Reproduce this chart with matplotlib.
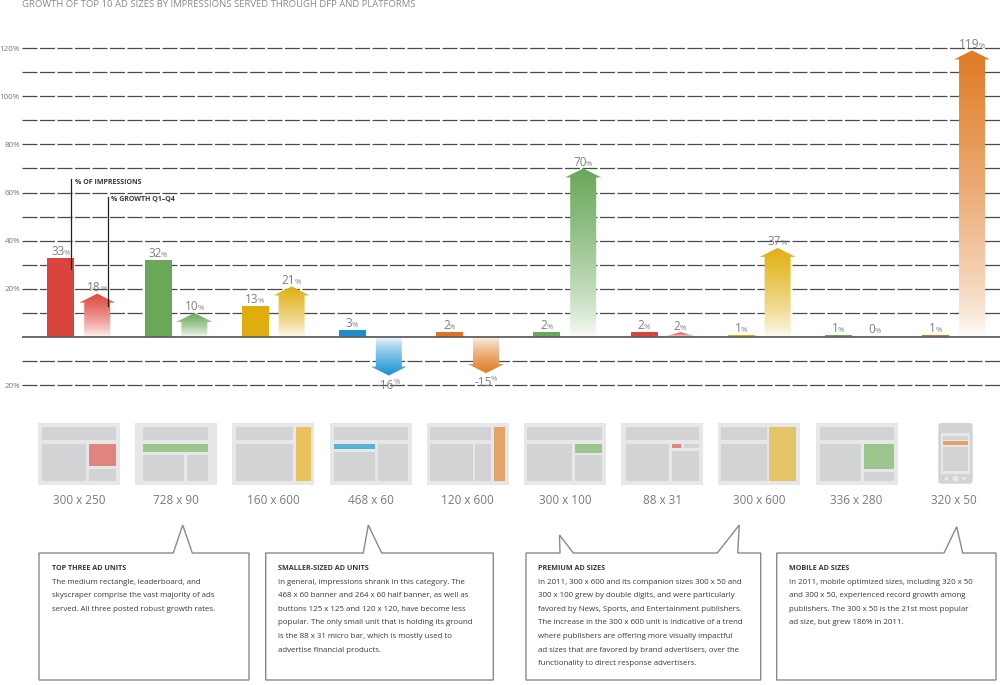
"""Growth of top 10 ad sizes: impressions share (bars) and Q1-Q4 growth (arrows)."""

import matplotlib.pyplot as plt
import numpy as np
from matplotlib.colors import to_rgb
from matplotlib.patches import Circle, FancyBboxPatch, Polygon, Rectangle

plt.rcParams["font.family"] = ["Open Sans", "DejaVu Sans"]

# --- data -------------------------------------------------------------------
TITLE = "GROWTH OF TOP 10 AD SIZES BY IMPRESSIONS SERVED THROUGH DFP AND PLATFORMS"
ad_sizes = ["300 x 250", "728 x 90", "160 x 600", "468 x 60", "120 x 600",
            "300 x 100", "88 x 31", "300 x 600", "336 x 280", "320 x 50"]
impressions = [33, 32, 13, 3, 2, 2, 2, 1, 1, 1]          # % of impressions
growth = [18, 10, 21, -16, -15, 70, 2, 37, 0, 119]       # % growth Q1-Q4
bar_colors = ["#d9453d", "#68a858", "#dfae0e", "#1a8fcc", "#dc7424",
              "#68a858", "#d9453d", "#dfae0e", "#68a858", "#dc7424"]
arrow_colors = ["#e0463b", "#68a858", "#e0ae12", "#1a93d3", "#e07b24",
                "#68a858", "#e0463b", "#e0b010", "#68a858", "#e07b24"]
y_ticks = [120, 100, 80, 60, 40, 20, -20]
y_tick_labels = ["120%", "100%", "80%", "60%", "40%", "20%", "20%"]

boxes = [
    ("TOP THREE AD UNITS",
     ["The medium rectangle, leaderboard, and",
      "skyscraper comprise the vast majority of ads",
      "served. All three posted robust growth rates."]),
    ("SMALLER-SIZED AD UNITS",
     ["In general, impressions shrank in this category. The",
      "468 x 60 banner and 264 x 60 half banner, as well as",
      "buttons 125 x 125 and 120 x 120, have become less",
      "popular. The only small unit that is holding its ground",
      "is the 88 x 31 micro bar, which is mostly used to",
      "advertise financial products."]),
    ("PREMIUM AD SIZES",
     ["In 2011, 300 x 600 and its companion sizes 300 x 50 and",
      "300 x 100 grew by double digits, and were particularly",
      "favored by News, Sports, and Entertainment publishers.",
      "The increase in the 300 x 600 unit is indicative of a trend",
      "where publishers are offering more visually impactful",
      "ad sizes that are favored by brand advertisers, over the",
      "functionality to direct response advertisers."]),
    ("MOBILE AD SIZES",
     ["In 2011, mobile optimized sizes, including 320 x 50",
      "and 300 x 50, experienced record growth among",
      "publishers. The 300 x 50 is the 21st most popular",
      "ad size, but grew 186% in 2011."]),
]

# --- layout (pixels) ----------------------------------------------------------
W, H = 1000, 685
BASE_PX, PX_PER_PCT = 337, 2.408
GROUP_PX, CENTER0_PX = 97.2, 79
Y_LIM = (-23, 123.5)
GREY, ACCENT_BG = "#d1d3d4", "#e6e7e8"
TEXT = "#3a3a3a"

fig = plt.figure(figsize=(W / 100, H / 100), dpi=100)
bottom_px = BASE_PX - Y_LIM[0] * PX_PER_PCT
top_px = BASE_PX - Y_LIM[1] * PX_PER_PCT
ax = fig.add_axes([22 / W, 1 - bottom_px / H, 1 - 22 / W, (bottom_px - top_px) / H])
ax.set_xlim((22 - CENTER0_PX) / GROUP_PX, (W - CENTER0_PX) / GROUP_PX)
ax.set_ylim(*Y_LIM)
ax.patch.set_alpha(0)
for s in ax.spines.values():
    s.set_visible(False)
ax.set_xticks([])
ax.set_yticks(y_ticks, y_tick_labels)
ax.tick_params(axis="y", length=0, pad=1.5, labelsize=5.8, labelcolor="#777777")

# gridlines
for v in range(-20, 121, 10):
    if v == 0:
        continue
    ax.axhline(v, color="#4a4a4a", lw=0.9, dashes=(12, 2), zorder=1)
ax.axhline(0, color="#606060", lw=1.3, zorder=4)

idx = np.arange(len(ad_sizes))
off = 18.2 / GROUP_PX
x_bar = idx - off
x_arrow = idx + off

ax.bar(x_bar, impressions, width=27 / GROUP_PX, color=bar_colors, zorder=3)


def draw_arrow(x, value, color):
    """Arrow from the baseline to value with a white-to-colour gradient."""
    if value == 0:
        return
    sw, hw = 26 / GROUP_PX, 36 / GROUP_PX
    hh = 9 / PX_PER_PCT
    sign = 1 if value > 0 else -1
    neck = abs(value) - hh
    if neck > 0:
        n = sign * neck
        pts = [(x - sw / 2, 0), (x - sw / 2, n), (x - hw / 2, n), (x, value),
               (x + hw / 2, n), (x + sw / 2, n), (x + sw / 2, 0)]
    else:
        pts = [(x - hw / 2, 0), (x, value), (x + hw / 2, 0)]
    patch = Polygon(pts, closed=True, facecolor="none", edgecolor="none")
    ax.add_patch(patch)
    s = np.linspace(0, 1, 256) ** 0.7
    rgb = np.array(to_rgb(color))
    img = 1 - s[:, None, None] * (1 - rgb)[None, None, :]
    if value > 0:
        extent = (x - hw / 2, x + hw / 2, 0, value)
    else:
        img = img[::-1]
        extent = (x - hw / 2, x + hw / 2, value, 0)
    im = ax.imshow(img, extent=extent, origin="lower", aspect="auto",
                   interpolation="bilinear", zorder=3)
    im.set_clip_path(patch)


for xa, g, c in zip(x_arrow, growth, arrow_colors):
    draw_arrow(xa, g, c)
ax.set_xlim((22 - CENTER0_PX) / GROUP_PX, (W - CENTER0_PX) / GROUP_PX)
ax.set_ylim(*Y_LIM)

renderer = fig.canvas.get_renderer()
PT = 72 / 100


def value_label(x, y, value, dy_px, va):
    """Number in normal size with a smaller % sign, centred on x."""
    num = ax.annotate(f"{value}", (x, y), xytext=(0, dy_px * PT),
                      textcoords="offset points", ha="center", va=va,
                      fontsize=8.5, color="#808080", zorder=6)
    pct = ax.annotate("%", (x, y), xytext=(0, dy_px * PT),
                      textcoords="offset points", ha="left", va=va,
                      fontsize=5.5, color="#808080", zorder=6)
    w1 = num.get_window_extent(renderer).width - 1.5
    w2 = pct.get_window_extent(renderer).width
    num.set_position((-w2 / 2 * PT, dy_px * PT))
    pct.set_position(((w1 / 2 - w2 / 2) * PT, dy_px * PT))


for xb, v in zip(x_bar, impressions):
    value_label(xb, v, v, 3, "baseline")
for xa, g in zip(x_arrow, growth):
    if g >= 0:
        value_label(xa, g, g, 2.5 if g > 0 else 4, "baseline")
    else:
        value_label(xa, g, g, -3, "top")

# leader lines for the legend notes
ax.plot([x_bar[0] + 0.11] * 2, [28.2, 65.6], color="#222222", lw=0.9, zorder=5)
ax.plot([x_arrow[0] + 0.115] * 2, [12.9, 58.1], color="#222222", lw=0.9, zorder=5)
ax.text(x_bar[0] + 0.145, 64.2, "% OF IMPRESSIONS", fontsize=5, fontweight="bold",
        color="#2f3a2f", va="center", zorder=6)
ax.text(x_arrow[0] + 0.145, 57.2, "% GROWTH Q1\u2013Q4", fontsize=5, fontweight="bold",
        color="#2f3a2f", va="center", zorder=6)

fig.text(22 / W, 1 - 4.5 / H, TITLE, fontsize=6.8, color="#8a8a8a", va="center")

# --- icons and notes, in pixel coordinates ------------------------------------
ov = fig.add_axes([0, 0, 1, 1])
ov.set_xlim(0, W)
ov.set_ylim(H, 0)
ov.axis("off")

icon_parts = [
    ([(4, 4.3, 74.4, 12.7), (4, 21, 43.7, 36.7), (50.7, 46, 27.7, 11.7)],
     (50.7, 21, 27.7, 21.7), "#e0847e"),
    ([(8, 4.3, 65, 12.7), (8, 31.7, 41, 26), (52, 31.7, 21, 26)],
     (8, 21, 65, 7.7), "#9dc58e"),
    ([(3.3, 4.3, 57.7, 12.7), (3.3, 21, 57.7, 36.7)],
     (63.3, 4.3, 15, 53.4), "#e9c25e"),
    ([(4.7, 4.3, 73.6, 12.7), (4.7, 28.7, 41, 29), (48.7, 21, 29.6, 36.7)],
     (4.7, 21, 41, 5), "#5ab0d9"),
    ([(3.3, 4.3, 60.7, 12.7), (3.3, 21, 42.4, 36.7), (48.3, 21, 15.7, 36.7)],
     (66.7, 4.3, 11.6, 53.4), "#e3a468"),
    ([(3.3, 4.3, 75, 12.7), (3.3, 21, 44.7, 36.7), (50.7, 32, 27.6, 25.7)],
     (50.7, 21, 27.6, 8.7), "#9dc58e"),
    ([(4.3, 4.3, 73.4, 12.7), (4.3, 21, 43.7, 36.7), (62.7, 21, 15, 4.3),
      (50.7, 28.3, 27, 29.4)],
     (50.7, 21, 9, 4.3), "#e0847e"),
    ([(3, 4.3, 45.3, 12.7), (3, 21, 45.3, 36.7)],
     (50.7, 4.3, 27, 53.4), "#e3c466"),
    ([(4, 4.3, 74.7, 12.7), (4, 21, 41, 36.7), (48.7, 49, 30, 8.7)],
     (48.7, 21, 30, 24.7), "#9dc58e"),
]

ICON_TOP, ICON_W, ICON_H = 423, 82, 61.5
centers_px = [ax.transData.transform((i, 0))[0] for i in idx]

for i, cx in enumerate(centers_px):
    if i < len(icon_parts):
        left = cx - ICON_W / 2
        ov.add_patch(Rectangle((left, ICON_TOP), ICON_W, ICON_H, color=ACCENT_BG, lw=0))
        greys, accent, acc_col = icon_parts[i]
        for (rx, ry, rw, rh) in greys:
            ov.add_patch(Rectangle((left + rx, ICON_TOP + ry), rw, rh, color=GREY, lw=0))
        rx, ry, rw, rh = accent
        ov.add_patch(Rectangle((left + rx, ICON_TOP + ry), rw, rh, color=acc_col, lw=0))
    else:
        # phone
        pw, ph = 34.4, 60.7
        left = cx + 1.7 - pw / 2
        ov.add_patch(FancyBboxPatch((left + 3, ICON_TOP + 3), pw - 6, ph - 6,
                                    boxstyle="round,pad=3", color=GREY, lw=0))
        ov.add_patch(Rectangle((left + 2.3, ICON_TOP + 10), 29.7, 40.7,
                               color=ACCENT_BG, lw=0))
        ov.add_patch(Rectangle((left + 4.7, ICON_TOP + 12.7), 25, 4, color=GREY, lw=0))
        ov.add_patch(Rectangle((left + 4.7, ICON_TOP + 18), 25, 4.3, color="#e3a468", lw=0))
        ov.add_patch(Rectangle((left + 4.7, ICON_TOP + 24), 25, 23.7, color=GREY, lw=0))
        for bx, r in [(8.3, 2), (17.2, 3), (26, 2)]:
            ov.add_patch(Circle((left + bx, ICON_TOP + 55.7), r, color=ACCENT_BG, lw=0))
    ov.text(cx, 500, ad_sizes[i], fontsize=8.5, color="#7a7a7a", ha="center", va="center")

# note boxes: (left, right, pointers[(base_left, apex_x, apex_y, base_right)])
BOX_TOP, BOX_BOTTOM = 553, 680
box_geom = [
    (39, 249, [(173.3, 182.7, 525, 192.3)]),
    (265.7, 493.3, [(363.3, 368.3, 525, 381.7)]),
    (526, 760.7, [(560, 559.5, 535, 573.3), (717.3, 739.3, 525, 737.7)]),
    (776.7, 996, [(944, 956.7, 526.7, 962.7)]),
]
for (left, right, pointers), (head, lines) in zip(box_geom, boxes):
    verts = [(left, BOX_BOTTOM), (left, BOX_TOP)]
    for bl, axp, ayp, br in pointers:
        verts += [(bl, BOX_TOP), (axp, ayp), (br, BOX_TOP)]
    verts += [(right, BOX_TOP), (right, BOX_BOTTOM)]
    ov.add_patch(Polygon(verts, closed=True, facecolor="white",
                         edgecolor="#8a8a8a", lw=1.0))
    tx = left + 12.5
    ov.text(tx, 569, head, fontsize=5.2, fontweight="bold", color=TEXT, va="center")
    for k, line in enumerate(lines):
        ov.text(tx, 582 + 13.6 * k, line, fontsize=5.7, color=TEXT, va="center")

fig.savefig("out.png", dpi=100, facecolor="white")
